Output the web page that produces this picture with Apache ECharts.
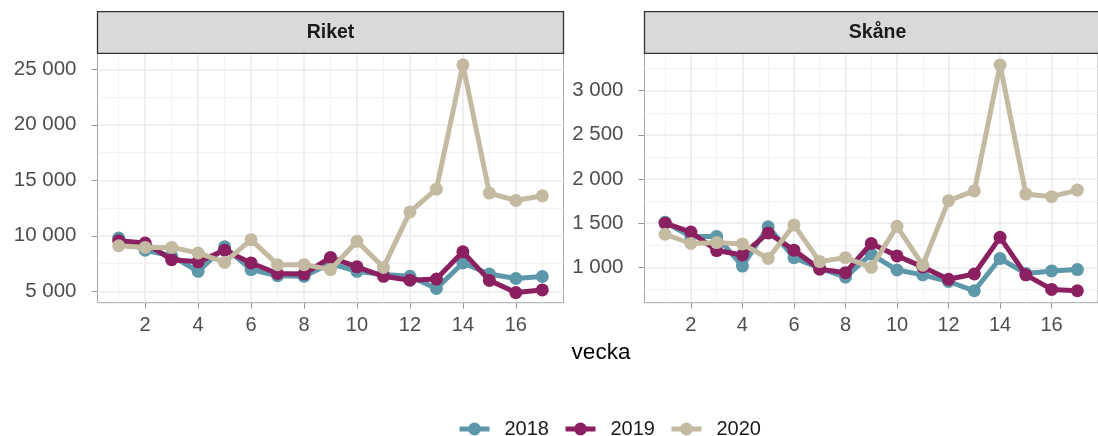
<!DOCTYPE html>
<html>
<head>
<meta charset="utf-8">
<script src="https://cdn.jsdelivr.net/npm/echarts@6/dist/echarts.min.js"></script>
<style>
  html, body { margin: 0; padding: 0; background: #fff; }
  #chart { width: 1098px; height: 436px; }
</style>
</head>
<body>
<div id="chart"></div>
<script>
// weeks 1..17
const weeks = [1, 2, 3, 4, 5, 6, 7, 8, 9, 10, 11, 12, 13, 14, 15, 16, 17];
const years = ['2018', '2019', '2020'];
const colors = ['#5c98aa', '#8b2060', '#c4b9a1'];
const panels = ['Riket', 'Skåne'];

const riket2018 = [9800, 8700, 8200, 6800, 9000, 6950, 6400, 6350, 7500, 6800, 6500, 6350, 5250, 7550, 6550, 6150, 6330];
const riket2019 = [9550, 9350, 7850, 7650, 8700, 7550, 6600, 6550, 8050, 7200, 6350, 6000, 6100, 8550, 5980, 4880, 5120];
const riket2020 = [9100, 8950, 8950, 8450, 7600, 9650, 7400, 7400, 6950, 9500, 7150, 12150, 14200, 25400, 13850, 13180, 13600];

const skane2018 = [1510, 1350, 1350, 1015, 1460, 1110, 990, 890, 1150, 970, 915, 840, 735, 1100, 930, 960, 975];
const skane2019 = [1500, 1400, 1190, 1140, 1390, 1195, 980, 940, 1270, 1130, 1005, 865, 925, 1340, 915, 750, 735];
const skane2020 = [1375, 1270, 1280, 1265, 1100, 1480, 1065, 1110, 1000, 1465, 1025, 1755, 1865, 3290, 1830, 1800, 1875];

const xMajor = [2, 4, 6, 8, 10, 12, 14, 16];
const xMinor = [1, 3, 5, 7, 9, 11, 13, 15, 17];
const riketMajor = [5000, 10000, 15000, 20000, 25000];
const riketMinor = [7500, 12500, 17500, 22500];
const skaneMajor = [1000, 1500, 2000, 2500, 3000];
const skaneMinor = [750, 1250, 1750, 2250, 2750, 3250];

const panelData = [
  [riket2018, riket2019, riket2020],
  [skane2018, skane2019, skane2020],
];
const yRange = [[3970, 26440], [600, 3423]];
const yTicks = [[riketMajor, riketMinor], [skaneMajor, skaneMinor]];

const GRID_TOP = 53.3;
const GRID_H = 249.4;
const GRID_W = 466;
const gridLeft = [97.5, 644.5];

const fmt = (v) => String(v).replace(/\B(?=(\d{3})+(?!\d))/g, ' ');
const labelColor = '#4d4d4d';
const fontFamily = '"Liberation Sans", Arial, sans-serif';

const grids = gridLeft.map((left) => ({
  left: left,
  top: GRID_TOP,
  width: GRID_W,
  height: GRID_H,
  show: true,
  borderColor: '#a6a6a6',
  borderWidth: 1,
  backgroundColor: '#fff',
}));

const xAxes = [];
const yAxes = [];
panels.forEach((p, i) => {
  // major x axis (labels, ticks, major grid)
  xAxes.push({
    type: 'value', gridIndex: i, min: 0.2, max: 17.8,
    axisLine: { show: false },
    axisTick: { show: true, customValues: xMajor, length: 6, lineStyle: { color: '#999' } },
    axisLabel: { customValues: xMajor, color: labelColor, fontSize: 20, fontFamily, margin: 13 },
    splitLine: { show: true, lineStyle: { color: '#ebebeb', width: 1.6 } },
  });
  // minor x grid
  xAxes.push({
    type: 'value', gridIndex: i, min: 0.2, max: 17.8,
    axisLine: { show: false },
    axisTick: { show: false, customValues: xMinor },
    axisLabel: { show: false, customValues: xMinor },
    splitLine: { show: true, lineStyle: { color: '#f0f0f0', width: 0.9 } },
  });
  yAxes.push({
    type: 'value', gridIndex: i, min: yRange[i][0], max: yRange[i][1],
    axisLine: { show: false },
    axisTick: { show: true, customValues: yTicks[i][0], length: 6, lineStyle: { color: '#999' } },
    axisLabel: { customValues: yTicks[i][0], color: labelColor, fontSize: 20.5, fontFamily, margin: 21, formatter: fmt },
    splitLine: { show: true, lineStyle: { color: '#ebebeb', width: 1.6 } },
  });
  yAxes.push({
    type: 'value', gridIndex: i, min: yRange[i][0], max: yRange[i][1],
    axisLine: { show: false },
    axisTick: { show: false, customValues: yTicks[i][1] },
    axisLabel: { show: false, customValues: yTicks[i][1] },
    splitLine: { show: true, lineStyle: { color: '#f0f0f0', width: 0.9 } },
  });
});

const series = [];
panels.forEach((p, i) => {
  years.forEach((y, k) => {
    series.push({
      name: y,
      type: 'line',
      xAxisIndex: i * 2,
      yAxisIndex: i * 2,
      data: weeks.map((w, j) => [w, panelData[i][k][j]]),
      symbol: 'circle',
      symbolSize: 13,
      showSymbol: true,
      lineStyle: { width: 5, color: colors[k] },
      itemStyle: { color: colors[k] },
      z: 3 + k,
      animation: false,
    });
  });
});

const strips = [];
panels.forEach((p, i) => {
  strips.push({
    type: 'rect',
    shape: { x: gridLeft[i], y: 11.7, width: GRID_W, height: 41.6 },
    style: { fill: '#d9d9d9', stroke: '#333', lineWidth: 1.3 },
    z: 10,
  });
  strips.push({
    type: 'text',
    x: gridLeft[i] + GRID_W / 2,
    y: 32.5,
    style: {
      text: p, fill: '#1a1a1a', font: 'bold 19.5px ' + fontFamily,
      textAlign: 'center', textVerticalAlign: 'middle',
    },
    z: 11,
  });
});
strips.push({
  type: 'text',
  x: 601,
  y: 353,
  style: {
    text: 'vecka', fill: '#000', font: '22.5px ' + fontFamily,
    textAlign: 'center', textVerticalAlign: 'middle',
  },
});

const chart = echarts.init(document.getElementById('chart'), null, { renderer: 'canvas' });
chart.setOption({
  animation: false,
  backgroundColor: '#fff',
  grid: grids,
  xAxis: xAxes,
  yAxis: yAxes,
  legend: {
    data: years,
    left: 452,
    top: 414,
    itemWidth: 30,
    itemHeight: 16,
    itemGap: 14,
    lineStyle: { width: 5 },
    textStyle: { fontSize: 20, color: '#1a1a1a', fontFamily, padding: [0, 0, 0, 10] },
  },
  graphic: strips,
  series: series,
});
</script>
</body>
</html>
